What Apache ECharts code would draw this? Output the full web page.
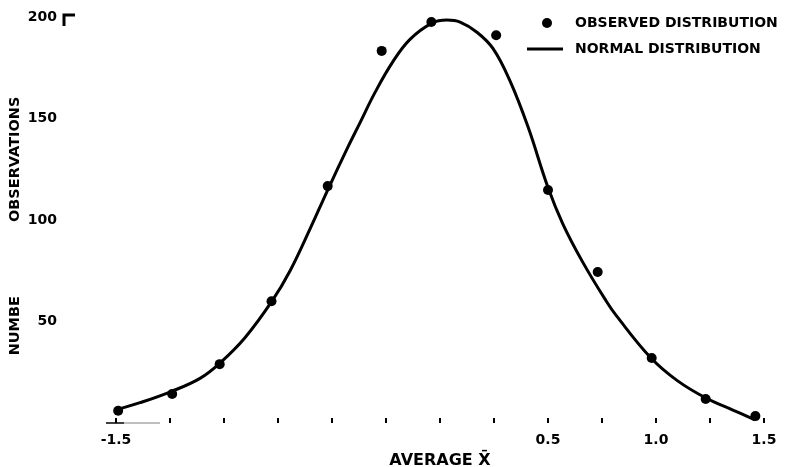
<!DOCTYPE html>
<html>
<head>
<meta charset="utf-8">
<script src="https://cdn.jsdelivr.net/npm/echarts@6/dist/echarts.min.js"></script>
<style>
html,body{margin:0;padding:0;background:#fff;}
#chart{width:787px;height:467px;}
</style>
</head>
<body>
<div id="chart"></div>
<script>
// Observed distribution (dots)
var obsX = [-1.49, -1.24, -1.02, -0.78, -0.52, -0.27, -0.04, 0.26, 0.50, 0.73, 0.98, 1.23, 1.46];
var obsY = [6, 14.3, 29, 60, 116.7, 183.3, 197.5, 191, 114.8, 74.4, 32, 11.8, 3.4];

// Normal distribution (curve)
var curveX = [-1.546, -1.5, -1.389, -1.245, -1.111, -1.019, -0.903, -0.778, -0.694, -0.600, -0.519, -0.426, -0.370, -0.300, -0.218, -0.139, -0.037, 0.032, 0.093, 0.171, 0.245, 0.324, 0.407, 0.500, 0.569, 0.662, 0.770, 0.819, 0.977, 1.097, 1.231, 1.356, 1.458];
var curveY = [5, 6.5, 10, 15.5, 22, 29.5, 42, 60, 75, 96, 115, 136, 148, 163, 178, 189, 197, 198.5, 197.5, 192.5, 184.5, 168.5, 146, 116, 98, 79, 60, 52.5, 32, 21, 12.3, 6.4, 1.5];

// Tick labels
var xLabelValues = [-1.5, 0.5, 1.0, 1.5];
var yLabelValues = [50, 100, 150, 200];

var seriesNames = ['OBSERVED DISTRIBUTION', 'NORMAL DISTRIBUTION'];
var xAxisName = 'AVERAGE X\u0304';
var yNameLow = 'NUMBE';
var yNameHigh = 'OBSERVATIONS';

var FONT = 'DejaVu Sans';
var INK = '#000';

function zip(a, b) { return a.map(function (v, i) { return [v, b[i]]; }); }

var chart = echarts.init(document.getElementById('chart'), null, {renderer: 'canvas'});
chart.setOption({
  animation: false,
  backgroundColor: '#fff',
  grid: {left: 116, right: 23, top: 17, bottom: 44, containLabel: false, outerBoundsMode: 'none'},
  legend: [
    {
      data: [{name: seriesNames[0], icon: 'circle'}],
      left: 542, top: 16, padding: 0,
      itemWidth: 10, itemHeight: 10,
      textStyle: {fontFamily: FONT, fontWeight: 'bold', fontSize: 14, color: INK, padding: [0, 0, 0, 18]}
    },
    {
      data: [{name: seriesNames[1], icon: 'rect'}],
      left: 527, top: 42, padding: 0,
      itemWidth: 36, itemHeight: 3,
      textStyle: {fontFamily: FONT, fontWeight: 'bold', fontSize: 14, color: INK, padding: [0, 0, 0, 7]}
    }
  ],
  xAxis: {
    type: 'value', min: -1.5, max: 1.5, interval: 0.25,
    name: xAxisName, nameLocation: 'middle', nameGap: 30, nameMoveOverlap: false,
    nameTextStyle: {fontFamily: FONT, fontWeight: 'bold', fontSize: 16, color: INK},
    axisLine: {show: false},
    axisTick: {show: true, inside: true, length: 5, lineStyle: {color: INK, width: 2}},
    splitLine: {show: false},
    axisLabel: {
      margin: 10, fontFamily: FONT, fontWeight: 'bold', fontSize: 14, color: INK,
      formatter: function (v) {
        for (var i = 0; i < xLabelValues.length; i++) {
          if (Math.abs(xLabelValues[i] - v) < 1e-6) return xLabelValues[i].toFixed(1);
        }
        return '';
      }
    }
  },
  yAxis: {
    type: 'value', min: 0, max: 200, interval: 50,
    name: '{a|' + yNameLow + '}{g|}{a|' + yNameHigh + '}{e|}',
    nameLocation: 'middle', nameRotate: 90, nameGap: 93, nameMoveOverlap: false,
    nameTextStyle: {
      fontFamily: FONT, fontWeight: 'bold', fontSize: 14, color: INK,
      rich: {
        a: {fontFamily: FONT, fontWeight: 'bold', fontSize: 14.5, color: INK},
        g: {width: 74},
        e: {width: 12}
      }
    },
    axisLine: {show: false},
    axisTick: {show: false},
    splitLine: {show: false},
    axisLabel: {
      margin: 59, fontFamily: FONT, fontWeight: 'bold', fontSize: 14, color: INK,
      formatter: function (v) { return yLabelValues.indexOf(v) >= 0 ? String(v) : ''; }
    }
  },
  graphic: [
    {type: 'polyline', shape: {points: [[64, 26], [64, 15], [75, 15]]}, style: {stroke: INK, lineWidth: 3, fill: null}},
    {type: 'line', shape: {x1: 124, y1: 423, x2: 160, y2: 423}, style: {stroke: '#aaa', lineWidth: 1.5}},
    {type: 'line', shape: {x1: 106, y1: 423, x2: 124, y2: 423}, style: {stroke: INK, lineWidth: 1.5}}
  ],
  series: [
    {
      name: seriesNames[0], type: 'scatter', z: 3,
      symbol: 'circle', symbolSize: 10,
      itemStyle: {color: INK, opacity: 1},
      data: zip(obsX, obsY)
    },
    {
      name: seriesNames[1], type: 'line', z: 2,
      symbol: 'none', smooth: 0.4, clip: false,
      lineStyle: {color: INK, width: 3},
      itemStyle: {color: INK},
      data: zip(curveX, curveY)
    }
  ]
});
</script>
</body>
</html>
